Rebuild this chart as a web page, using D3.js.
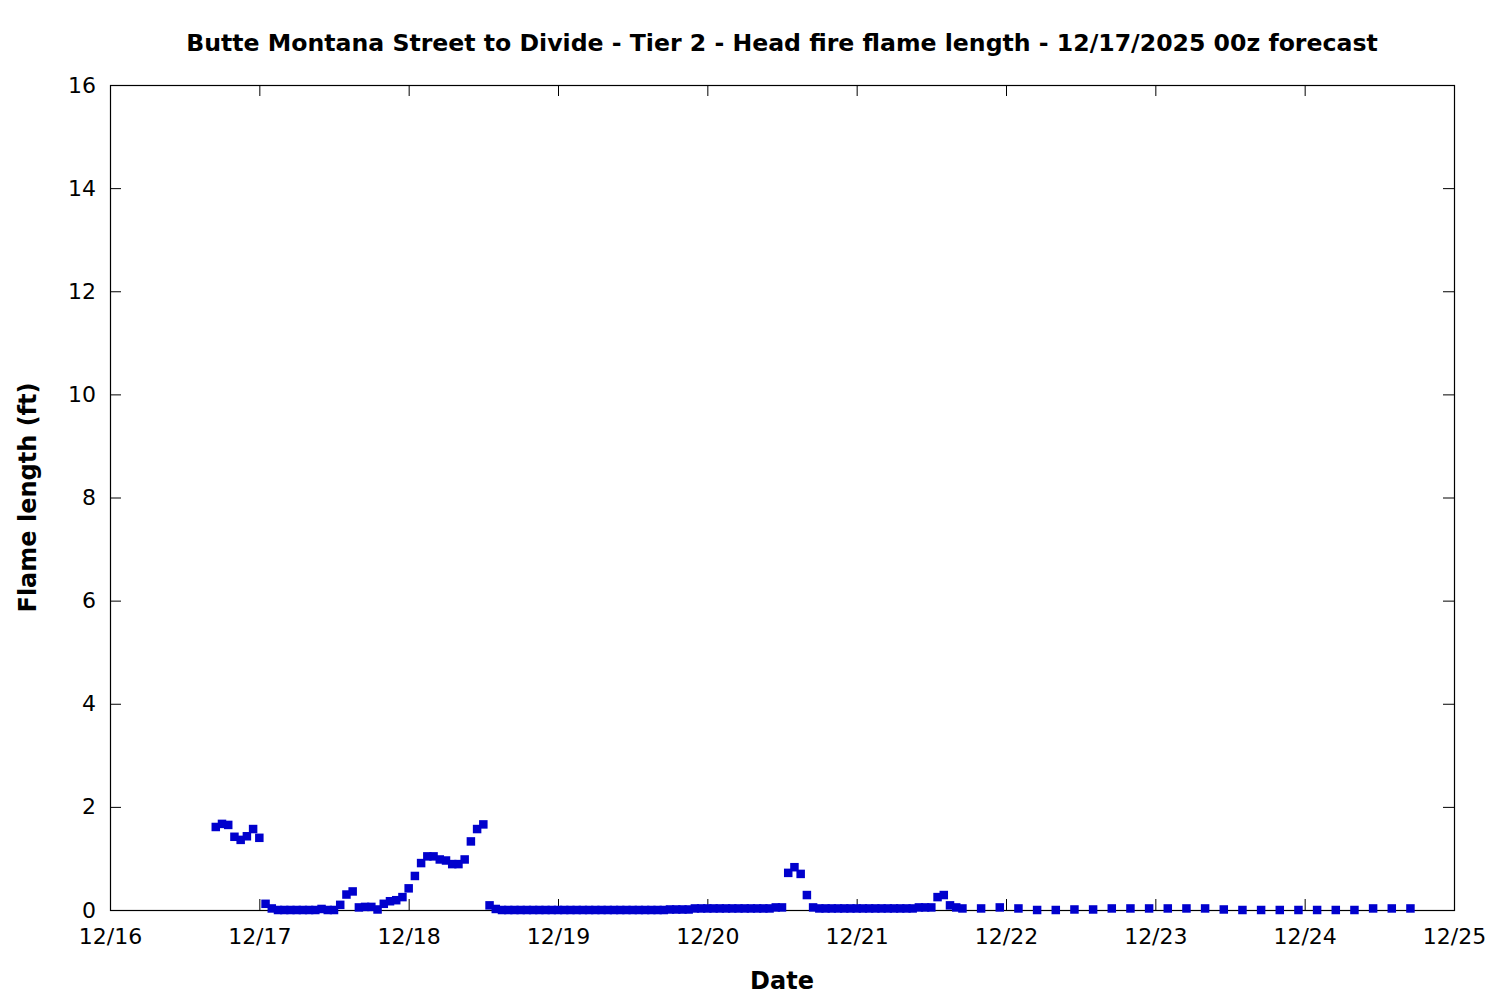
<!DOCTYPE html>
<html>
<head>
<meta charset="utf-8">
<script src="https://cdn.jsdelivr.net/npm/d3@7"></script>
<style>
  body { margin: 0; background: #fff; }
  svg { display: block; }
  text { font-family: "DejaVu Sans", sans-serif; fill: #000; }
</style>
</head>
<body>
<svg id="chart" width="1500" height="1000"></svg>
<script>
// ---- data ----
const chartTitle = "Butte Montana Street to Divide - Tier 2 - Head fire flame length - 12/17/2025 00z forecast";
const xLabel = "Date";
const yLabel = "Flame length (ft)";
const baseTime = "2025-12-16T00:00:00Z";
// forecast valid times, hours after baseTime
const forecastHours = [
  17,18,19,20,21,22,23,24,
  25,26,27,28,29,30,31,32,33,34,35,36,
  37,38,39,40,41,42,43,44,45,46,47,48,
  49,50,51,52,53,54,55,56,57,58,59,60,
  61,62,63,64,65,66,67,68,69,70,71,72,
  73,74,75,76,77,78,79,80,81,82,83,84,
  85,86,87,88,89,90,91,92,93,94,95,96,
  97,98,99,100,101,102,103,104,105,106,107,108,
  109,110,111,112,113,114,115,116,117,118,119,120,
  121,122,123,124,125,126,127,128,129,130,131,132,
  133,134,135,136,137,
  140,143,146,149,152,155,158,161,164,167,170,173,
  176,179,182,185,188,191,194,197,200,203,206,209
];
// head fire flame length (ft)
const flameLength = [
  1.61,1.67,1.65,1.42,1.36,1.43,1.57,1.40,
  0.12,0.03,0,0,0,0,0,0,0,0.02,0,0,
  0.10,0.30,0.36,0.05,0.06,0.06,0.01,0.12,0.17,0.19,0.25,0.42,
  0.66,0.91,1.04,1.04,0.98,0.96,0.89,0.89,0.98,1.33,1.57,1.66,
  0.09,0.02,0,0,0,0,0,0,0,0,0,0,
  0,0,0,0,0,0,0,0,0,0,0,0,
  0,0,0,0,0,0.01,0.01,0.01,0.01,0.03,0.03,0.03,
  0.03,0.03,0.03,0.03,0.03,0.03,0.03,0.03,0.03,0.03,0.05,0.05,
  0.72,0.83,0.70,0.29,0.05,0.03,0.03,0.03,0.03,0.03,0.03,0.03,
  0.03,0.03,0.03,0.03,0.03,0.03,0.03,0.03,0.03,0.05,0.05,0.05,
  0.25,0.29,0.09,0.05,0.03,
  0.03,0.05,0.03,0,0,0.01,0.01,0.03,0.03,0.03,0.03,0.03,
  0.03,0.01,0,0,0,0,0,0,0,0.03,0.03,0.03
];
const xDomain = ["2025-12-16T00:00:00Z", "2025-12-25T00:00:00Z"];
const yDomain = [0, 16];
const yTicks = [0, 2, 4, 6, 8, 10, 12, 14, 16];

// ---- drawing ----
const svg = d3.select("#chart");
const margin = { left: 110, right: 46, top: 85, bottom: 90 };
const W = 1500, H = 1000;
const x = d3.scaleUtc().domain(xDomain.map(d => new Date(d))).range([margin.left, W - margin.right]);
const y = d3.scaleLinear().domain(yDomain).range([H - margin.bottom, margin.top]);
const base = new Date(baseTime);
const data = forecastHours.map((h, i) => ({ t: d3.utcHour.offset(base, h), v: flameLength[i] }));

const xTicks = d3.utcDay.range(new Date(xDomain[0]), d3.utcDay.offset(new Date(xDomain[1]), 1));
const fmt = d3.utcFormat("%m/%d");
const tickLen = 11;

// bottom axis (inward ticks)
const gx = svg.append("g").attr("transform", `translate(0,${y(0)})`)
  .call(d3.axisBottom(x).tickValues(xTicks).tickFormat(fmt).tickSizeInner(-tickLen).tickSizeOuter(0).tickPadding(18));
// top axis mirror ticks
const gxt = svg.append("g").attr("transform", `translate(0,${y(16)})`)
  .call(d3.axisTop(x).tickValues(xTicks).tickFormat("").tickSizeInner(-tickLen).tickSizeOuter(0));
// left axis
const gy = svg.append("g").attr("transform", `translate(${x.range()[0]},0)`)
  .call(d3.axisLeft(y).tickValues(yTicks).tickFormat(d3.format("d")).tickSizeInner(-tickLen).tickSizeOuter(0).tickPadding(14));
// right axis mirror
const gyr = svg.append("g").attr("transform", `translate(${x.range()[1]},0)`)
  .call(d3.axisRight(y).tickValues(yTicks).tickFormat("").tickSizeInner(-tickLen).tickSizeOuter(0));

[gx, gxt, gy, gyr].forEach(g => {
  g.select(".domain").remove();
  g.selectAll(".tick line").attr("stroke", "#000").attr("stroke-width", 1);
  g.selectAll("text").attr("font-family", "DejaVu Sans").attr("font-size", 22).attr("fill", "#000");
});
gx.selectAll(".tick").filter((d, i) => i === 0 || i === xTicks.length - 1).select("line").remove();
gxt.selectAll(".tick").filter((d, i) => i === 0 || i === xTicks.length - 1).select("line").remove();
gy.selectAll(".tick").filter(d => d === 0 || d === 16).select("line").remove();
gyr.selectAll(".tick").filter(d => d === 0 || d === 16).select("line").remove();

// border
svg.append("rect")
  .attr("x", x.range()[0] + 0.5).attr("y", y(16) + 0.5)
  .attr("width", x.range()[1] - x.range()[0]).attr("height", y(0) - y(16))
  .attr("fill", "none").attr("stroke", "#000").attr("stroke-width", 1.2);

// points
const sz = 8.5;
svg.append("g").selectAll("rect.pt").data(data).join("rect")
  .attr("class", "pt")
  .attr("x", d => x(d.t) - sz / 2)
  .attr("y", d => y(d.v) - sz / 2)
  .attr("width", sz).attr("height", sz)
  .attr("fill", "#0000cd");

// title and labels
svg.append("text").attr("x", (x.range()[0] + x.range()[1]) / 2).attr("y", 51)
  .attr("text-anchor", "middle").attr("font-weight", "bold").attr("font-size", 23.6)
  .text(chartTitle);
svg.append("text").attr("x", (x.range()[0] + x.range()[1]) / 2).attr("y", 989)
  .attr("text-anchor", "middle").attr("font-weight", "bold").attr("font-size", 24)
  .text(xLabel);
svg.append("text").attr("transform", `translate(36,${(y(0) + y(16)) / 2}) rotate(-90)`)
  .attr("text-anchor", "middle").attr("font-weight", "bold").attr("font-size", 24)
  .text(yLabel);
</script>
</body>
</html>
